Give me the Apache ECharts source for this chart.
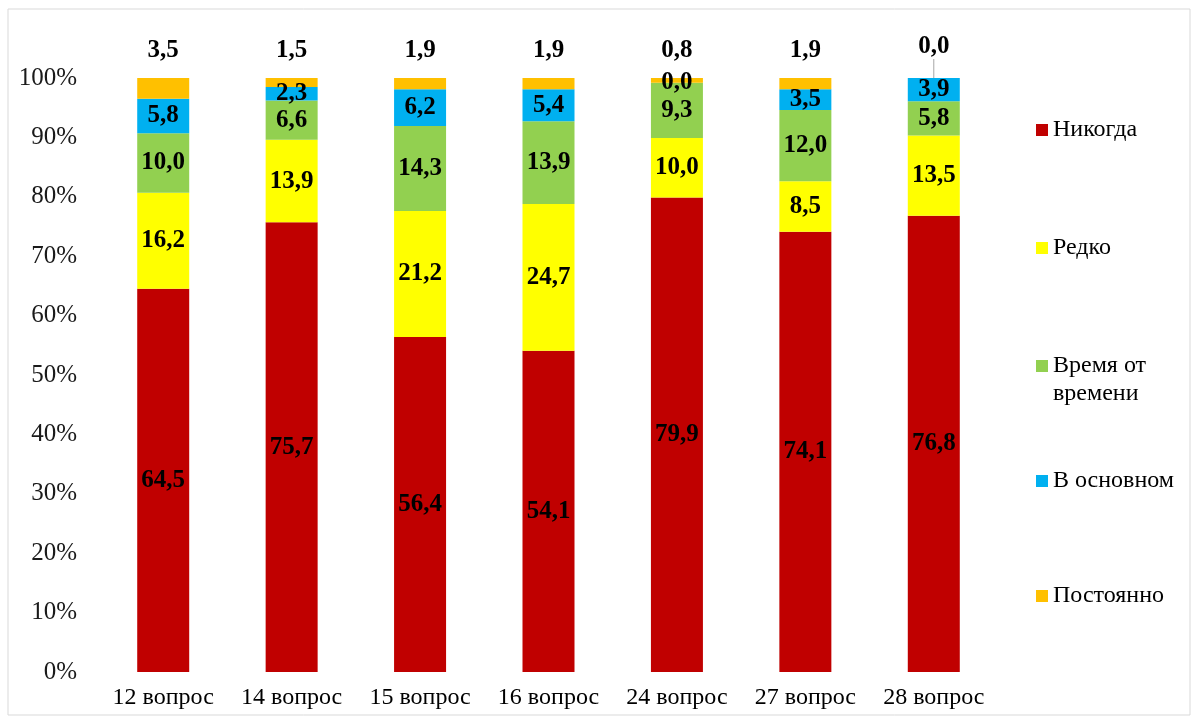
<!DOCTYPE html>
<html>
<head>
<meta charset="utf-8">
<script src="https://cdn.jsdelivr.net/npm/echarts@6/dist/echarts.min.js"></script>
<style>html,body{margin:0;padding:0;background:#fff}#c{width:1195px;height:720px}</style>
</head>
<body>
<div id="c"></div>
<script>
var categories = ['12 вопрос','14 вопрос','15 вопрос','16 вопрос','24 вопрос','27 вопрос','28 вопрос'];
var seriesNames = ['Никогда','Редко','Время от времени','В основном','Постоянно'];
var nikogda   = [64.5, 75.7, 56.4, 54.1, 79.9, 74.1, 76.8];
var redko     = [16.2, 13.9, 21.2, 24.7, 10.0,  8.5, 13.5];
var vremya    = [10.0,  6.6, 14.3, 13.9,  9.3, 12.0,  5.8];
var osnovnom  = [ 5.8,  2.3,  6.2,  5.4,  0.0,  3.5,  3.9];
var postoyanno= [ 3.5,  1.5,  1.9,  1.9,  0.8,  1.9,  0.0];
var yTicks = ['0%','10%','20%','30%','40%','50%','60%','70%','80%','90%','100%'];

var colors = ['#C00000','#FFFF00','#92D050','#00B0F0','#FFC000'];
var values = [nikogda, redko, vremya, osnovnom, postoyanno];
var FONT = '"Liberation Serif", "DejaVu Serif", serif';
function fmt(p){ return Number(p.value).toFixed(1).replace('.', ','); }

var series = values.map(function(v, i){
  var data = v.map(function(val, j){
    if (i === 4 && val === 0) {
      return { value: val, labelLine: { show: true, lineStyle: { color: '#a6a6a6', width: 1 } } };
    }
    return val;
  });
  var s = {
    name: seriesNames[i], type: 'bar', stack: 'all', data: data, barWidth: 52,
    itemStyle: { color: colors[i] },
    label: { show: true, position: 'inside', formatter: fmt, color: '#000',
             fontFamily: FONT, fontWeight: 'bold', fontSize: 25 }
  };
  if (i === 4) {
    s.label.position = 'top';
    s.label.distance = 15;
    s.labelLine = { show: false };
    s.labelLayout = function(p){
      if (postoyanno[p.dataIndex] === 0) { return { dy: -4 }; }
      return {};
    };
  }
  return s;
});

var legendCenters = [125, 243, 361, 476, 591];
var LH = 27;
var legends = seriesNames.map(function(n, i){
  return {
    data: [n], orient: 'vertical', left: 1031, top: legendCenters[i] - LH / 2,
    itemWidth: 12, itemHeight: 12, icon: 'rect',
    formatter: function(name){ return name === 'Время от времени' ? 'Время от' : name; },
    textStyle: { fontFamily: FONT, fontSize: 24, color: '#000', lineHeight: LH },
    selectedMode: false
  };
});

var chart = echarts.init(document.getElementById('c'));
chart.setOption({
  backgroundColor: '#fff',
  animation: false,
  grid: { left: 99, right: 197, top: 78, bottom: 48 },
  legend: legends,
  graphic: [
    { type: 'rect', shape: { x: 8, y: 9, width: 1182, height: 706 },
      style: { fill: 'none', stroke: '#d9d9d9', lineWidth: 1 }, silent: true, z: -1 },
    { type: 'text', left: 1053, top: 380,
      style: { text: 'времени', fontFamily: FONT, fontSize: 24, fill: '#000', lineHeight: LH } }
  ],
  xAxis: {
    type: 'category', data: categories,
    axisLine: { show: false }, axisTick: { show: false },
    axisLabel: { fontFamily: FONT, fontSize: 24, color: '#000', margin: 14, interval: 0 }
  },
  yAxis: {
    type: 'value', min: 0, max: 100, interval: 10,
    splitLine: { show: false }, axisLine: { show: false }, axisTick: { show: false },
    axisLabel: { fontFamily: FONT, fontSize: 25, color: '#1a1a1a', margin: 22,
                 formatter: function(v){ return yTicks[Math.round(v/10)]; } }
  },
  series: series
});
</script>
</body>
</html>
